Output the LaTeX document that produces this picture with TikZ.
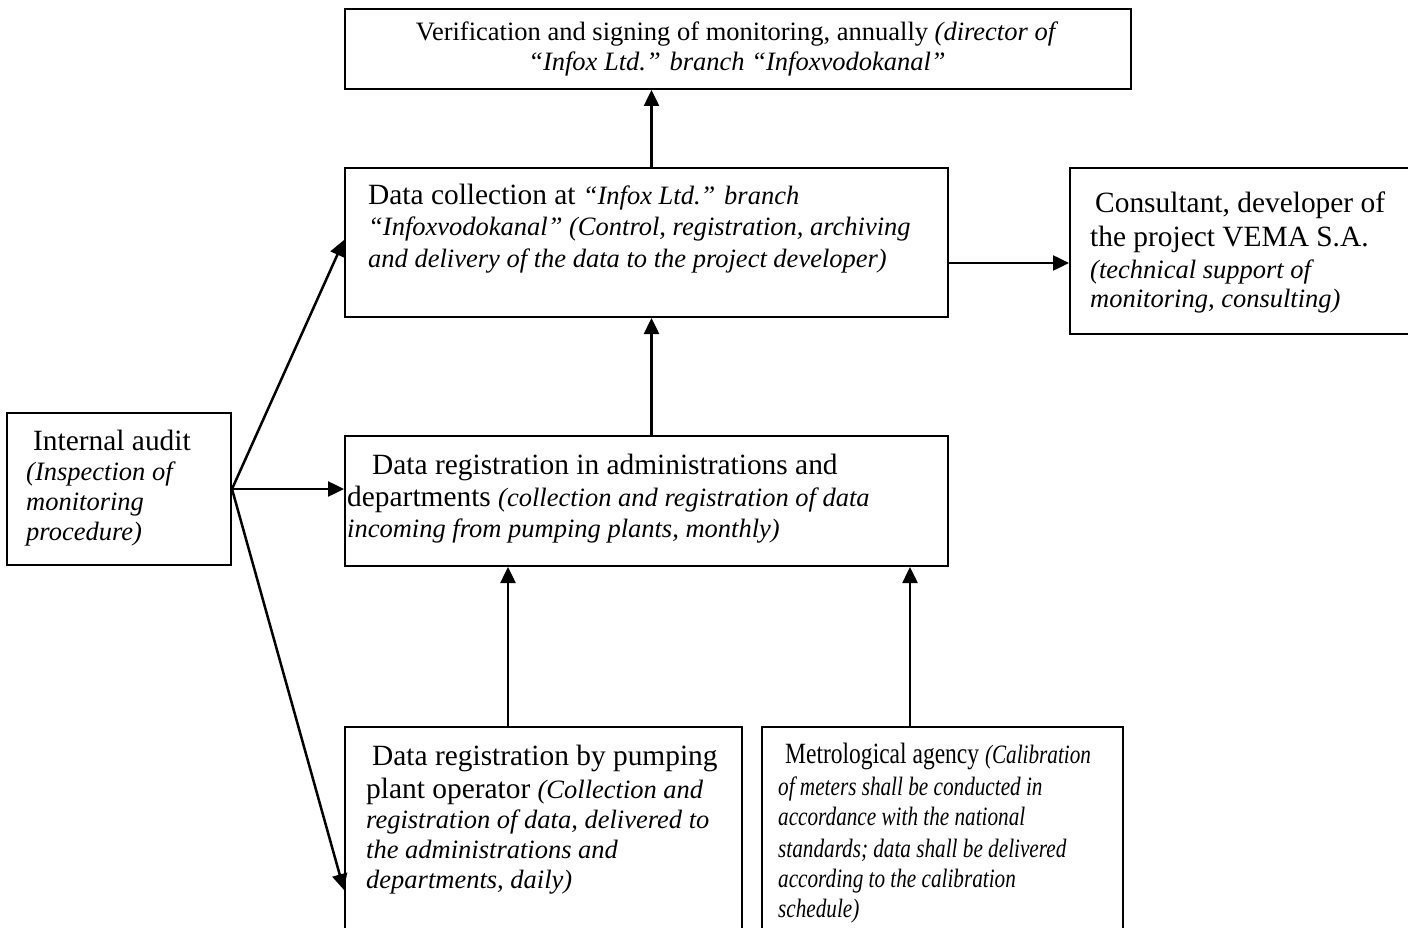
\documentclass[tikz,border=0pt]{standalone}
\usepackage{fontspec}
\setmainfont{Liberation Serif}
\newfontfamily\condfont[FakeStretch=0.8]{Liberation Serif}
\usetikzlibrary{arrows.meta,calc}
\newcommand\txtup{\fontsize{29.4}{31}\selectfont\upshape}
\newcommand\txtit{\fontsize{26.5}{31}\selectfont\itshape}
\newcommand\txtsm{\fontsize{26.5}{30}\selectfont\upshape}
\begin{document}
\begin{tikzpicture}[x=1pt,y=-1pt,
  box/.style={draw, line width=2pt, rectangle, inner sep=0pt, anchor=north west},
  txt/.style={anchor=base west, inner sep=0pt},
  ctxt/.style={anchor=base, inner sep=0pt},
  arr/.style={line width=2.5pt, -{Triangle[length=16pt,width=15pt]}}]
\useasboundingbox (0,0) rectangle (1408,928);
\clip (0,0) rectangle (1408,928);
\fill[white] (0,0) rectangle (1408,928);

% boxes
\node[box, minimum width=786pt, minimum height=80pt] (ver) at (344,8) {};
\node[box, minimum width=603pt, minimum height=149pt] (coll) at (344,167) {};
\node[box, minimum width=400pt, minimum height=166pt] (cons) at (1069,167) {};
\node[box, minimum width=224pt, minimum height=152pt] (audit) at (6,412) {};
\node[box, minimum width=603pt, minimum height=130pt] (admin) at (344,435) {};
\node[box, minimum width=397pt, minimum height=250pt] (pump) at (344,726) {};
\node[box, minimum width=361pt, minimum height=250pt] (metro) at (761,726) {};

% texts: verification
\node[ctxt] (ver1) at (737,41) {\txtsm Verification and signing of monitoring, annually \textit{(director of}};
\node[ctxt] (ver2) at (737,71) {\txtsm\itshape “Infox Ltd.” branch “Infoxvodokanal”};

% data collection
\node[txt] (coll1) at (368,205) {\txtup Data collection at {\txtit “Infox Ltd.” branch}};
\node[txt] (coll2) at (368,236) {\txtit “Infoxvodokanal” (Control, registration, archiving};
\node[txt] (coll3) at (368,267) {\txtit and delivery of the data to the project developer)};

% consultant
\node[txt] (cons1) at (1095,213) {\txtup Consultant, developer of};
\node[txt] (cons2) at (1090,247) {\txtup the project VEMA S.A.};
\node[txt] (cons3) at (1090,278) {\txtit (technical support of};
\node[txt] (cons4) at (1090,307) {\txtit monitoring, consulting)};

% internal audit
\node[txt] (aud1) at (33,450) {\txtup Internal audit};
\node[txt] (aud2) at (26,480) {\txtit (Inspection of};
\node[txt] (aud3) at (26,510) {\txtit monitoring};
\node[txt] (aud4) at (26,540) {\txtit procedure)};

% administrations
\node[txt] (adm1) at (372,474) {\txtup Data registration in administrations and};
\node[txt] (adm2) at (347,506) {\txtup departments {\txtit (collection and registration of data}};
\node[txt] (adm3) at (347,537) {\txtit incoming from pumping plants, monthly)};

% pumping plant
\node[txt] (pmp1) at (372,765) {\txtup Data registration by pumping};
\node[txt] (pmp2) at (366,798) {\txtup plant operator {\txtit (Collection and}};
\node[txt] (pmp3) at (366,828) {\txtit registration of data, delivered to};
\node[txt] (pmp4) at (366,858) {\txtit the administrations and};
\node[txt] (pmp5) at (366,888) {\txtit departments, daily)};

% metrological
\node[txt] (met1) at (785,763) {\condfont\txtup Metrological agency {\txtit (Calibration}};
\node[txt] (met2) at (778,795) {\condfont\txtit of meters shall be conducted in};
\node[txt] (met3) at (778,825) {\condfont\txtit accordance with the national};
\node[txt] (met4) at (778,857) {\condfont\txtit standards; data shall be delivered};
\node[txt] (met5) at (778,887) {\condfont\txtit according to the calibration};
\node[txt] (met6) at (778,917) {\condfont\txtit schedule)};

% connectors
\coordinate (c1) at ($(coll.north)+(5,0)$);
\draw[arr] (c1) -- (c1 |- ver.south);
\coordinate (c2) at ($(admin.north)+(5,0)$);
\draw[arr] (c2) -- (c2 |- coll.south);
\coordinate (c3) at ($(coll.north east)+(0,96)$);
\draw[arr] (c3) -- (c3 -| cons.west);
\draw[arr] (audit.east) -- (audit.east -| admin.west);
\draw[arr] (audit.east) -- ($(coll.north west)+(0,73)$);
\draw[arr] (audit.east) -- ($(pump.north west)+(0,164)$);
\coordinate (c4) at ($(pump.north west)+(164,0)$);
\draw[arr] (c4) -- (c4 |- admin.south);
\coordinate (c5) at ($(metro.north west)+(149,0)$);
\draw[arr] (c5) -- (c5 |- admin.south);
\end{tikzpicture}
\end{document}
